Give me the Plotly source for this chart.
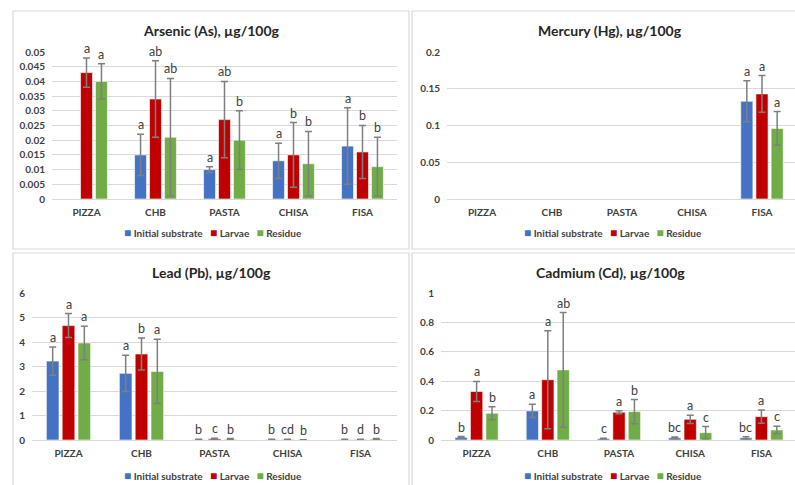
import plotly.graph_objects as go

W, H = 795, 485
FONT = "Lato"

categories = ["PIZZA", "CHB", "PASTA", "CHISA", "FISA"]
series_names = ["Initial substrate", "Larvae", "Residue"]
colors = ["#4472C4", "#C00000", "#70AD47"]

# ---- Arsenic (As)
as_initial = [None, 0.015, 0.010, 0.013, 0.018]
as_initial_err = [None, 0.007, 0.001, 0.006, 0.013]
as_larvae = [0.043, 0.034, 0.027, 0.015, 0.016]
as_larvae_err = [0.005, 0.013, 0.013, 0.011, 0.009]
as_residue = [0.040, 0.021, 0.020, 0.012, 0.011]
as_residue_err = [0.006, 0.020, 0.010, 0.011, 0.010]
as_labels_initial = ["", "a", "a", "a", "a"]
as_labels_larvae = ["a", "ab", "ab", "b", "b"]
as_labels_residue = ["a", "ab", "b", "b", "b"]

# ---- Mercury (Hg)
hg_initial = [None, None, None, None, 0.133]
hg_initial_err = [None, None, None, None, 0.028]
hg_larvae = [None, None, None, None, 0.143]
hg_larvae_err = [None, None, None, None, 0.025]
hg_residue = [None, None, None, None, 0.096]
hg_residue_err = [None, None, None, None, 0.023]
hg_labels_initial = ["", "", "", "", "a"]
hg_labels_larvae = ["", "", "", "", "a"]
hg_labels_residue = ["", "", "", "", "a"]

# ---- Lead (Pb)
pb_initial = [3.22, 2.72, 0.02, 0.02, 0.02]
pb_initial_err = [0.58, 0.74, 0.01, 0.01, 0.01]
pb_larvae = [4.67, 3.51, 0.05, 0.02, 0.02]
pb_larvae_err = [0.49, 0.65, 0.02, 0.01, 0.01]
pb_residue = [3.96, 2.80, 0.03, 0.005, 0.04]
pb_residue_err = [0.68, 1.31, 0.03, 0.005, 0.02]
pb_labels_initial = ["a", "a", "b", "b", "b"]
pb_labels_larvae = ["a", "b", "c", "cd", "d"]
pb_labels_residue = ["a", "a", "b", "b", "b"]

# ---- Cadmium (Cd)
cd_initial = [0.018, 0.198, 0.010, 0.015, 0.015]
cd_initial_err = [0.005, 0.045, 0.002, 0.005, 0.007]
cd_larvae = [0.330, 0.410, 0.189, 0.141, 0.159]
cd_larvae_err = [0.068, 0.333, 0.010, 0.028, 0.045]
cd_residue = [0.182, 0.477, 0.193, 0.050, 0.068]
cd_residue_err = [0.045, 0.390, 0.082, 0.041, 0.025]
cd_labels_initial = ["b", "a", "c", "bc", "bc"]
cd_labels_larvae = ["a", "a", "a", "a", "a"]
cd_labels_residue = ["b", "ab", "b", "c", "c"]

panels = [
    dict(name="Arsenic (As), µg/100g", vals=[as_initial, as_larvae, as_residue],
         errs=[as_initial_err, as_larvae_err, as_residue_err],
         labels=[as_labels_initial, as_labels_larvae, as_labels_residue],
         ymax=0.05, dtick=0.005,
         px=(52, 397), py=(52, 199), box=(13, 11, 409, 249), tpos=(211, 30), leg=(213, 232)),
    dict(name="Mercury (Hg), µg/100g", vals=[hg_initial, hg_larvae, hg_residue],
         errs=[hg_initial_err, hg_larvae_err, hg_residue_err],
         labels=[hg_labels_initial, hg_labels_larvae, hg_labels_residue],
         ymax=0.2, dtick=0.05,
         px=(447, 797), py=(52, 199), box=(412, 11, 800, 249), tpos=(610, 30), leg=(613, 232)),
    dict(name="Lead (Pb), µg/100g", vals=[pb_initial, pb_larvae, pb_residue],
         errs=[pb_initial_err, pb_larvae_err, pb_residue_err],
         labels=[pb_labels_initial, pb_labels_larvae, pb_labels_residue],
         ymax=6, dtick=1,
         px=(32, 397), py=(293, 440), box=(13, 253, 409, 492), tpos=(211, 272), leg=(213, 475)),
    dict(name="Cadmium (Cd), µg/100g", vals=[cd_initial, cd_larvae, cd_residue],
         errs=[cd_initial_err, cd_larvae_err, cd_residue_err],
         labels=[cd_labels_initial, cd_labels_larvae, cd_labels_residue],
         ymax=1, dtick=0.2,
         px=(441, 797), py=(293, 440), box=(412, 253, 800, 492), tpos=(610, 272), leg=(613, 475)),
]

BARGAP = 0.35
GROUPGAP = 0.2
slot = (1 - BARGAP) / len(series_names)

fig = go.Figure()
shapes, annotations = [], []
layout = {}

legend_text = "&nbsp;&nbsp;&nbsp;".join(
    '<span style="color:%s;font-size:12px">■</span> %s' % (c, n)
    for c, n in zip(colors, series_names))

for p_i, p in enumerate(panels):
    n = p_i + 1
    sfx = "" if n == 1 else str(n)
    xa, ya = "x" + sfx, "y" + sfx
    for s_i, name in enumerate(series_names):
        fig.add_trace(go.Bar(
            x=categories, y=p["vals"][s_i], name=name,
            marker=dict(color=colors[s_i], line=dict(color="rgba(255,255,255,0.6)", width=1)),
            error_y=dict(type="data", array=p["errs"][s_i], color="#7F7F7F", thickness=1.5, width=3.5),
            xaxis=xa, yaxis=ya, showlegend=False,
        ))
        offset = (s_i - 1) * slot
        for c_i, lab in enumerate(p["labels"][s_i]):
            v = p["vals"][s_i][c_i]
            if not lab or v is None:
                continue
            e = p["errs"][s_i][c_i] or 0
            annotations.append(dict(
                x=c_i + offset, y=v + e, xref=xa, yref=ya, text=lab, showarrow=False,
                yanchor="bottom", xanchor="center", yshift=0,
                font=dict(family=FONT, size=12.5, color="#404040")))
    x0, x1 = p["px"]
    # clip domain at page edge, adjusting range so the category scale stays the same
    pxw = (x1 - x0) / 5.0
    rx1 = 4.5 - max(0, x1 - W) / pxw
    dx1 = min(x1, W)
    layout["xaxis" + sfx] = dict(
        domain=[x0 / W, dx1 / W], anchor=ya, range=[-0.5, rx1],
        type="category", showgrid=False, showline=True, linecolor="#D9D9D9", linewidth=1,
        ticks="", ticklabelstandoff=4, fixedrange=True,
        tickfont=dict(family=FONT, size=10, color="#404040", weight="bold"))
    layout["yaxis" + sfx] = dict(
        domain=[1 - p["py"][1] / H, 1 - p["py"][0] / H], anchor=xa,
        range=[0, p["ymax"]], dtick=p["dtick"], showgrid=True, gridcolor="#D9D9D9",
        gridwidth=1, zeroline=False, showline=False, ticks="", ticklabelstandoff=6,
        tickfont=dict(family=FONT, size=10, color="#404040", weight="bold"))
    bx0, by0, bx1, by1 = p["box"]
    shapes.append(dict(type="rect", xref="paper", yref="paper",
                       x0=bx0 / W, x1=bx1 / W, y0=1 - by1 / H, y1=1 - by0 / H,
                       line=dict(color="#D9D9D9", width=1.2), fillcolor="rgba(0,0,0,0)",
                       layer="below"))
    annotations.append(dict(
        x=p["tpos"][0] / W, y=1 - p["tpos"][1] / H, xref="paper", yref="paper",
        text="<b>" + p["name"] + "</b>", showarrow=False,
        xanchor="center", yanchor="middle",
        font=dict(family=FONT, size=14, color="#262626")))
    annotations.append(dict(
        x=p["leg"][0] / W, y=1 - p["leg"][1] / H, xref="paper", yref="paper",
        text="<b>" + legend_text + "</b>", showarrow=False,
        xanchor="center", yanchor="middle",
        font=dict(family=FONT, size=10, color="#404040")))

fig.update_layout(
    width=W, height=H, margin=dict(l=0, r=0, t=0, b=0, autoexpand=False),
    paper_bgcolor="white", plot_bgcolor="white",
    barmode="group", bargap=BARGAP, bargroupgap=GROUPGAP,
    shapes=shapes, annotations=annotations, **layout,
)

fig.write_html("out.html", config={"displayModeBar": False},
               post_script="document.body.style.margin='0';document.body.style.overflow='hidden';")
